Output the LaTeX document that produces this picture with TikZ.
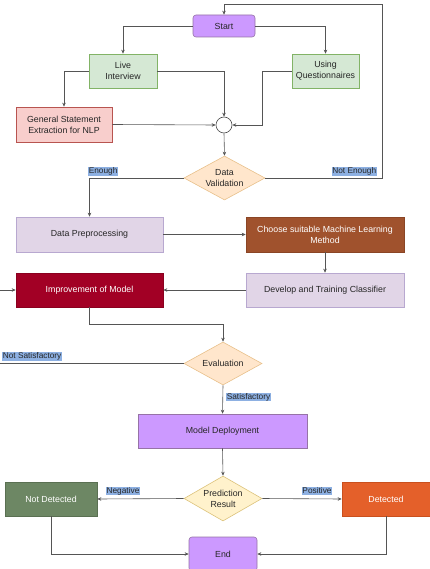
\documentclass[tikz,border=0pt]{standalone}
\usepackage{fontspec}
\setmainfont{Liberation Sans}
\usetikzlibrary{arrows.meta,shapes.geometric}

\definecolor{lilacF}{HTML}{CC99FF}\definecolor{lilacD}{HTML}{9673A6}
\definecolor{greenF}{HTML}{D5E8D4}\definecolor{greenD}{HTML}{82B366}
\definecolor{redF}{HTML}{F8CECC}\definecolor{redD}{HTML}{B85450}
\definecolor{peachF}{HTML}{FFE6CC}\definecolor{peachD}{HTML}{E8C08A}
\definecolor{yellowF}{HTML}{FFF2CC}\definecolor{yellowD}{HTML}{DCC27A}
\definecolor{paleF}{HTML}{E1D5E7}\definecolor{paleD}{HTML}{B8A8D0}
\definecolor{brownF}{HTML}{A0522D}\definecolor{brownD}{HTML}{8A4525}
\definecolor{wineF}{HTML}{A20025}\definecolor{wineD}{HTML}{8A001F}
\definecolor{oliveF}{HTML}{6D8764}\definecolor{oliveD}{HTML}{5A7052}
\definecolor{orangeF}{HTML}{E4602A}\definecolor{orangeD}{HTML}{C9501E}
\definecolor{tagF}{HTML}{8DB0E2}
\definecolor{wire}{HTML}{555555}

\tikzset{
	box/.style={draw, line width=0.6pt, inner sep=0pt, align=center, text=black!85, font=\fontsize{8.8}{10.8}\selectfont},
	term/.style={box, rounded corners=3pt, fill=lilacF, draw=lilacD},
	decision/.style={diamond, aspect=1.85, draw, line width=0.6pt, inner sep=0pt, align=center, text=black!85, font=\fontsize{8.8}{10.8}\selectfont},
	tag/.style={fill=tagF, inner sep=0.6pt, font=\fontsize{8.3}{9}\selectfont, text=black!85},
	flow/.style={draw=wire, line width=0.6pt, -{Stealth[length=4pt,width=3.5pt]}}
}

\begin{document}
\begin{tikzpicture}[x=1pt,y=-1pt]
	\useasboundingbox (0,0) rectangle (429,569);
	% boxes
	\node[term, minimum width=62, minimum height=22](start) at (224,26){Start};
	\node[box, fill=greenF, draw=greenD, minimum width=68, minimum height=34](live) at (123,71){Live\\Interview};
	\node[box, fill=greenF, draw=greenD, minimum width=67, minimum height=34](quest) at (325.5,71){Using\\Questionnaires};
	\node[box, fill=redF, draw=redD, minimum width=96, minimum height=35](gen) at (64,124.5){General Statement\\Extraction for NLP};
	\node[circle, draw=black!70, fill=white, line width=0.6pt, minimum size=16, inner sep=0pt](junc) at (224,125){};
	\node[decision, fill=peachF, draw=peachD, minimum width=81, minimum height=44](valid) at (224.5,178){Data\\Validation};
	\node[box, fill=paleF, draw=paleD, minimum width=147, minimum height=35](prep) at (89.5,234.5){Data Preprocessing};
	\node[box, fill=brownF, draw=brownD, text=white, minimum width=158, minimum height=35](method) at (325,234.5){Choose suitable Machine Learning\\Method};
	\node[box, fill=paleF, draw=paleD, minimum width=158, minimum height=34](train) at (325,290){Develop and Training Classifier};
	\node[box, fill=wineF, draw=wineD, text=white, minimum width=147, minimum height=34](improve) at (89.5,290){Improvement of Model};
	\node[decision, fill=peachF, draw=peachD, minimum width=78, minimum height=43](eval) at (223,363.5){Evaluation};
	\node[box, fill=lilacF, draw=lilacD, minimum width=169, minimum height=34](deploy) at (222.5,431){Model Deployment};
	\node[decision, fill=yellowF, draw=yellowD, minimum width=78, minimum height=45](pred) at (223,498.5){Prediction\\Result};
	\node[box, fill=oliveF, draw=oliveD, text=white, minimum width=92, minimum height=34](notdet) at (51,499){Not Detected};
	\node[box, fill=orangeF, draw=orangeD, text=white, minimum width=88, minimum height=34](det) at (386,499){Detected};
	\node[term, minimum width=68, minimum height=34](finish) at (223,554){End};
	% connectors
	\draw[flow] (start.west) -| (live.north);
	\draw[flow] (start.east) -| (quest.north);
	\draw[flow] (live.west) -| (gen.north);
	\draw[flow] (live.east) -| (junc.north);
	\draw[flow] (quest.west) -- (262,71) |- (junc.east);
	\draw[flow] (gen.east) -- (junc.west);
	\draw[flow] (junc.south) -- (valid.north);
	\draw[flow] (valid.west) -| (prep.north);
	\draw[flow] (valid.east) -- (382,178) -- (382,4) -| (start.north);
	\draw[flow] (prep.east) -- (method.west);
	\draw[flow] (method.south) -- (train.north);
	\draw[flow] (train.west) -- (improve.east);
	\draw[flow] (improve.south) -- (89.5,324) -| (eval.north);
	\draw[flow] (eval.west) -- (-4,363.5) -- (-4,290) -- (improve.west);
	\draw[flow] (eval.south) -- (deploy.north);
	\draw[flow] (deploy.south) -- (pred.north);
	\draw[flow] (pred.west) -- (notdet.east);
	\draw[flow] (pred.east) -- (det.west);
	\draw[flow] (notdet.south) |- (finish.west);
	\draw[flow] (det.south) |- (finish.east);
	% labels
	\node[tag, anchor=south west](enough) at (88,176){Enough};
	\node[tag, anchor=south east](notenough) at (377,176){Not Enough};
	\node[tag, anchor=south west](notsat) at (2,361){Not Satisfactory};
	\node[tag, anchor=west](sat) at (226,397){Satisfactory};
	\node[tag](neg) at (123,491){Negative};
	\node[tag](pos) at (317,491){Positive};
\end{tikzpicture}
\end{document}
